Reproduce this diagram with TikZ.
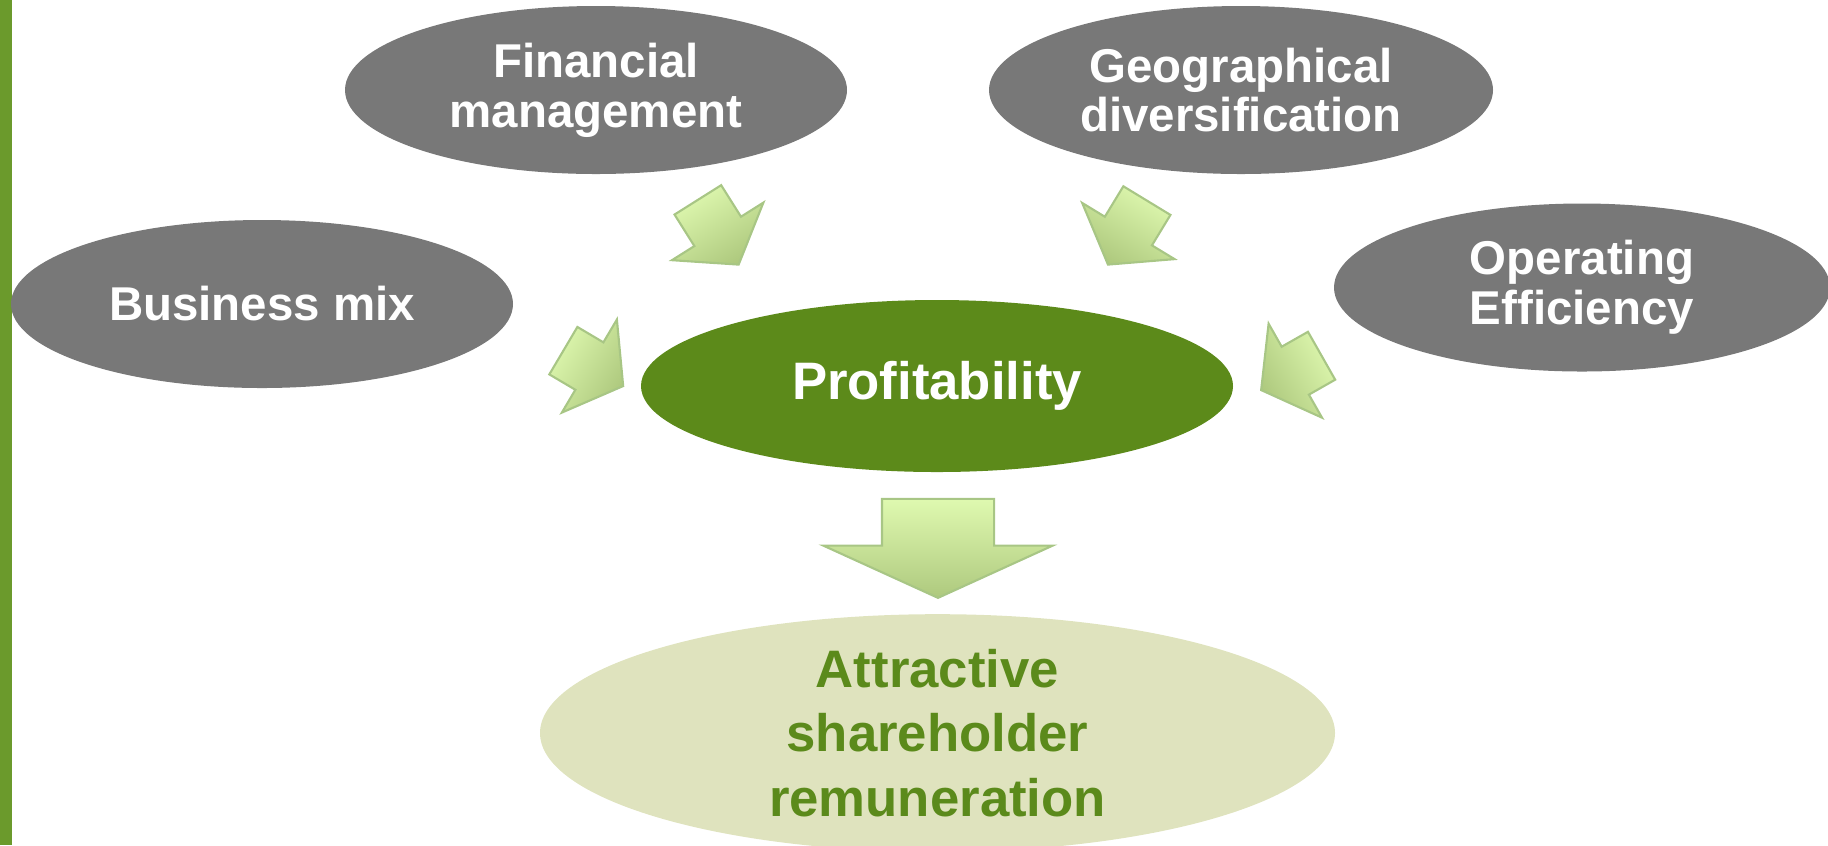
\documentclass[tikz,border=0pt]{standalone}
\usepackage{fontspec}
\setmainfont{Liberation Sans}
\usetikzlibrary{shapes.geometric}
\usetikzlibrary{shapes.arrows}
\definecolor{ovalgray}{HTML}{787878}
\definecolor{profitgreen}{HTML}{5C8A1A}
\definecolor{payfill}{HTML}{DFE3BE}
\definecolor{paytext}{HTML}{5B8A1B}
\definecolor{arrowlight}{HTML}{DFF9B0}
\definecolor{arrowdark}{HTML}{AEC97E}
\definecolor{arrowline}{HTML}{A8C685}
\definecolor{barcolor}{HTML}{6B9A2C}

\begin{document}
\begin{tikzpicture}[oval/.style={ellipse,inner sep=0pt,minimum width=5.02cm,minimum height=1.68cm,fill=ovalgray,text=white,align=center,font=\bfseries\fontsize{13.5}{14.2}\selectfont},
    push/.style={single arrow,draw=arrowline,line width=.6pt,top color=arrowlight,bottom color=arrowdark,inner xsep=0pt,inner ysep=.265cm,single arrow head extend=.265cm,single arrow tip angle=108,anchor=tip}]
    \useasboundingbox (0,0) rectangle (18.28,-8.45);
    \fill[barcolor] (0,0) rectangle (0.12,-8.45);
    % drivers
    \node[oval] (fin) at (5.96,-0.90) {Financial\\management};
    \node[oval,minimum width=5.04cm] (geo) at (12.41,-0.90) {Geographical\\diversification};
    \node[oval] (biz) at (2.62,-3.04) {Business mix};
    \node[oval,minimum width=4.96cm] (ope) at (15.82,-2.875) {Operating\\Efficiency};
    % center and result
    \node[ellipse,inner sep=0pt,minimum width=5.92cm,minimum height=1.72cm,fill=profitgreen,text=white,font=\bfseries\fontsize{15}{18}\selectfont] (prof) at (9.37,-3.86) {Profitability};
    \node[ellipse,inner sep=0pt,minimum width=7.95cm,minimum height=2.22cm,fill=payfill,text=paytext,align=center,font=\bfseries\fontsize{15}{18.4}\selectfont] (pay) at (9.375,-7.33) {Attractive\\shareholder\\remuneration};
    % arrows
    \node[push,rotate=-57.8,shading angle=32,minimum height=.765cm] (a1) at (7.393,-2.657) {};
    \node[push,rotate=-30.6,shading angle=59,minimum height=.695cm] (a2) at (6.243,-3.867) {};
    \node[push,rotate=-121.3,shading angle=-31,minimum height=.749cm] (a3) at (11.073,-2.657) {};
    \node[push,rotate=-150.4,shading angle=-60,minimum height=.695cm] (a4) at (12.60,-3.907) {};
    \node[push,rotate=-90,minimum height=.99cm,inner ysep=.55cm,single arrow head extend=.585cm,single arrow tip angle=131] (down) at (9.38,-5.99) {};
\end{tikzpicture}
\end{document}
